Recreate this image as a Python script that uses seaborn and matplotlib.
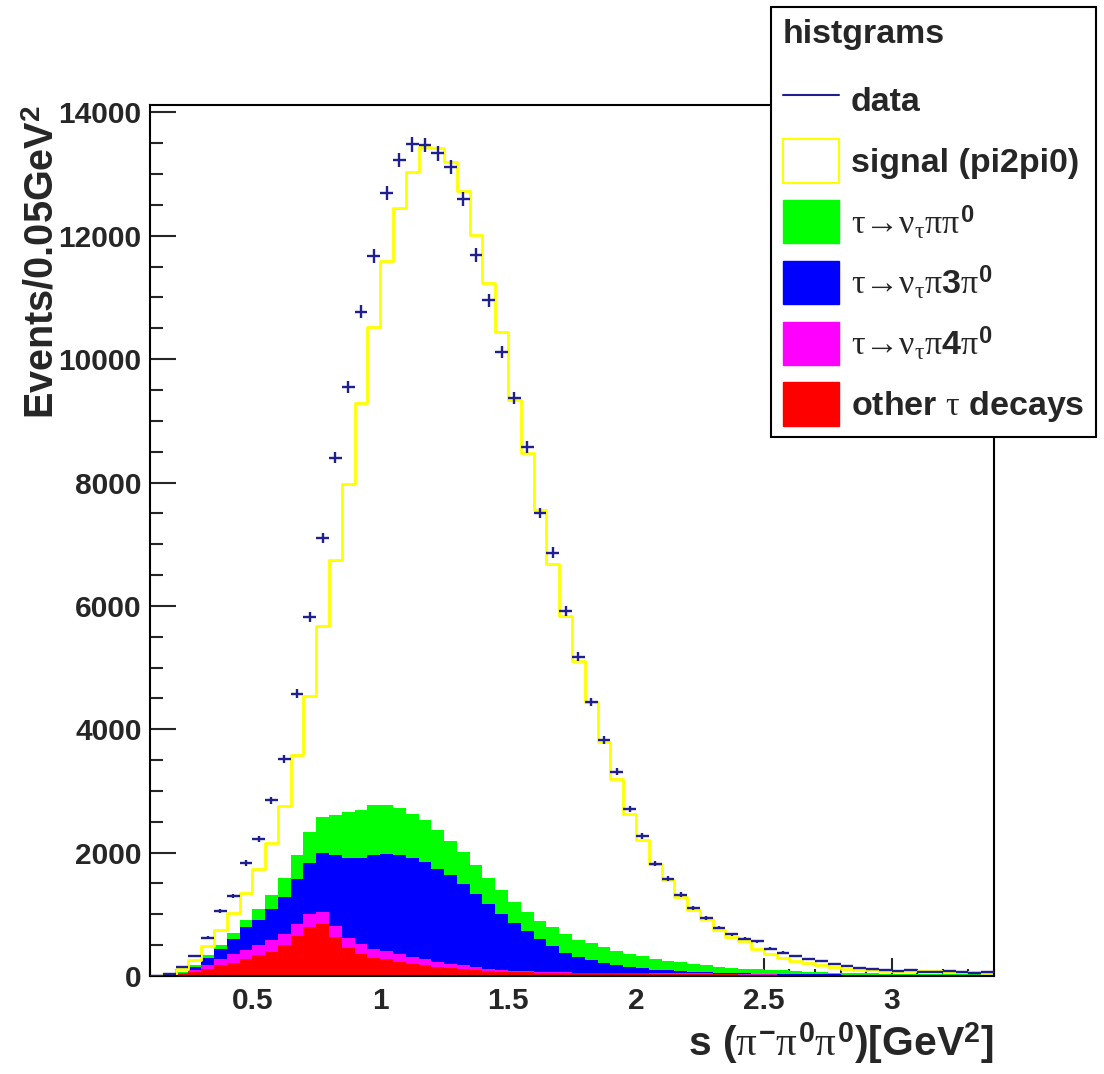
import numpy as np
import pandas as pd
import matplotlib.pyplot as plt
import seaborn as sns
from matplotlib.lines import Line2D
from matplotlib.patches import Patch
from matplotlib.ticker import MultipleLocator, FuncFormatter

sns.set_style("ticks", {"xtick.direction": "in", "ytick.direction": "in"})
plt.rcParams["font.family"] = ["Liberation Sans", "DejaVu Sans"]
plt.rcParams["font.weight"] = "bold"
plt.rcParams["axes.labelweight"] = "bold"
plt.rcParams["mathtext.fontset"] = "custom"
plt.rcParams["mathtext.rm"] = "Liberation Sans:weight=bold"
plt.rcParams["mathtext.it"] = "Liberation Serif:style=normal:weight=normal"
plt.rcParams["mathtext.bf"] = "Liberation Sans:weight=bold"

# 66 bins of 0.05 GeV^2 from 0.1 to 3.4
edges = [round(0.1 + 0.05 * i, 3) for i in range(67)]
centres = np.array([(a + b) / 2 for a, b in zip(edges[:-1], edges[1:])])

# events per bin
data = [8, 30, 140, 324, 622, 1049, 1297, 1832, 2216, 2849,
        3519, 4578, 5822, 7103, 8400, 9552, 10768, 11670, 12687, 13227,
        13481, 13470, 13335, 13119, 12590, 11687, 10957, 10119, 9373, 8579,
        7508, 6865, 5919, 5173, 4443, 3822, 3308, 2703, 2265, 1822,
        1578, 1319, 1103, 946, 784, 676, 605, 562, 443, 378,
        319, 281, 243, 200, 168, 130, 108, 103, 81, 103,
        65, 59, 81, 59, 49, 65]

signal = [2, 10, 45, 69, 151, 244, 324, 448, 638, 854,
          1165, 1621, 2206, 3092, 4146, 5314, 6584, 7757, 8817, 9730,
          10395, 10919, 11054, 11016, 10713, 10216, 9649, 9033, 8136, 7433,
          6662, 5897, 5158, 4518, 3913, 3330, 2795, 2272, 1891, 1546,
          1308, 1060, 876, 754, 601, 500, 443, 332, 251, 202,
          158, 141, 111, 91, 69, 58, 51, 50, 49, 48,
          46, 45, 42, 38, 34, 30]

pipi0 = [1, 3, 10, 35, 43, 54, 98, 108, 178, 216,
         314, 389, 503, 583, 648, 740, 778, 811, 805, 767,
         718, 675, 621, 552, 525, 460, 427, 389, 341, 308,
         285, 310, 300, 290, 275, 250, 225, 210, 195, 171,
         148, 146, 132, 114, 94, 87, 77, 71, 62, 54,
         46, 38, 34, 29, 26, 23, 20, 18, 17, 16,
         14, 13, 11, 11, 10, 10]

pi3pi0 = [2, 5, 13, 58, 119, 162, 243, 368, 406, 503,
          605, 730, 821, 957, 1146, 1297, 1395, 1514, 1568, 1595,
          1606, 1579, 1514, 1432, 1313, 1189, 1043, 908, 771, 652,
          535, 416, 320, 244, 202, 164, 131, 103, 79, 60,
          51, 32, 26, 21, 16, 17, 15, 14, 13, 13,
          14, 13, 10, 9, 7, 6, 5, 5, 5, 5,
          5, 5, 5, 5, 5, 5]

pi4pi0 = [0, 2, 7, 27, 54, 108, 146, 146, 173, 200,
          179, 189, 216, 200, 179, 168, 173, 146, 135, 135,
          108, 97, 81, 70, 59, 54, 38, 33, 23, 18,
          15, 14, 12, 10, 8, 7, 6, 5, 5, 5,
          4, 4, 4, 4, 4, 3, 3, 3, 3, 3,
          2, 2, 2, 2, 2, 2, 2, 2, 1, 1,
          1, 1, 1, 1, 1, 1]

other = [0, 5, 35, 65, 119, 173, 216, 281, 335, 389,
         497, 649, 795, 838, 632, 454, 351, 297, 270, 227,
         200, 173, 146, 130, 114, 92, 81, 70, 65, 60,
         55, 50, 48, 46, 45, 44, 43, 42, 41, 40,
         40, 39, 38, 37, 36, 25, 24, 23, 22, 20,
         18, 17, 16, 15, 15, 14, 14, 13, 13, 12,
         12, 11, 11, 10, 10, 9]

bg_keys = ["pipi0", "pi3pi0", "pi4pi0", "other"]
bg_colors = {"pipi0": "#00ff00", "pi3pi0": "#0000ff", "pi4pi0": "#ff00ff", "other": "#ff0000"}
n = len(centres)

bg = pd.DataFrame({
    "s": np.tile(centres, 4),
    "events": np.concatenate([pipi0, pi3pi0, pi4pi0, other]),
    "component": np.repeat(bg_keys, n),
})
allmc = pd.DataFrame({
    "s": np.tile(centres, 5),
    "events": np.concatenate([signal, pipi0, pi3pi0, pi4pi0, other]),
})

fig = plt.figure(figsize=(11.04, 10.74), dpi=100)
ax = fig.add_axes([150 / 1104, 1 - 976 / 1074, 844 / 1104, 871 / 1074])

# stacked backgrounds (first hue level ends up on top)
sns.histplot(data=bg, x="s", weights="events", hue="component", hue_order=bg_keys,
             palette=bg_colors, multiple="stack", bins=edges, element="step",
             fill=True, alpha=1, linewidth=0, legend=False, ax=ax)
# total stack = signal + backgrounds, yellow outline
sns.histplot(data=allmc, x="s", weights="events", bins=edges, element="step",
             fill=False, color="#ffff00", linewidth=2, ax=ax)

navy = "#1f1f8f"
data = np.array(data, dtype=float)
ax.errorbar(centres, data, xerr=0.025, yerr=np.sqrt(data), fmt="none",
            ecolor=navy, elinewidth=1.7, capsize=0, zorder=3)

ax.set_xlim(0.1, 3.4)
ax.set_ylim(0, 14120)
ax.set_axisbelow(True)
ax.xaxis.set_major_locator(MultipleLocator(0.5))
ax.xaxis.set_minor_locator(MultipleLocator(0.1))
ax.xaxis.set_major_formatter(FuncFormatter(lambda v, p: f"{v:g}"))
ax.yaxis.set_major_locator(MultipleLocator(2000))
ax.yaxis.set_minor_locator(MultipleLocator(500))
ax.tick_params(axis="y", which="major", length=19, width=1.5, labelsize=21.5, pad=6)
ax.tick_params(axis="y", which="minor", length=9, width=1.5)
ax.tick_params(axis="x", which="major", length=13, width=1.5, labelsize=21.5, pad=8)
ax.tick_params(axis="x", which="minor", length=5.3, width=1.5)
ax.tick_params(top=False, right=False, which="both")
for sp in ax.spines.values():
    sp.set_visible(True)
    sp.set_linewidth(1.5)
    sp.set_color("black")

ax.set_ylabel(r"Events/0.05GeV$^{2}$", fontsize=28.5, fontweight="bold",
              loc="top", labelpad=-2)
ax.set_xlabel(r"s ($\pi^{-}\pi^{0}\pi^{0}$)[GeV$^{2}$]", fontsize=29.5,
              fontweight="bold", loc="right", labelpad=4)

handles = [
    Line2D([], [], color=navy, lw=1.5),
    Patch(facecolor="white", edgecolor="#ffff00", lw=1.5),
    Patch(facecolor="#00ff00", edgecolor="#00ff00"),
    Patch(facecolor="#0000ff", edgecolor="#0000ff"),
    Patch(facecolor="#ff00ff", edgecolor="#ff00ff"),
    Patch(facecolor="#ff0000", edgecolor="#ff0000"),
]
labels = [
    "data",
    "signal (pi2pi0)",
    r"$\tau$→$\nu_{\tau}\pi\pi^{0}$",
    r"$\tau$→$\nu_{\tau}\pi$3$\pi^{0}$",
    r"$\tau$→$\nu_{\tau}\pi$4$\pi^{0}$",
    r"other $\tau$ decays",
]
leg = fig.legend(handles, labels, loc="upper right",
                 bbox_to_anchor=(1096 / 1104, 1 - 7 / 1074),
                 title="histgrams", alignment="left", fontsize=24.5,
                 title_fontproperties={"weight": "bold", "size": 24.5},
                 frameon=True, fancybox=False, edgecolor="black", framealpha=1,
                 handlelength=1.67, handleheight=1.57, handletextpad=0.33,
                 labelspacing=0.52, borderpad=0.35, borderaxespad=0)
leg._legend_box.sep += 8  # a bit more room under the header, as in the original
leg.get_frame().set_linewidth(1.5)

fig.savefig("out.png", dpi=100)
